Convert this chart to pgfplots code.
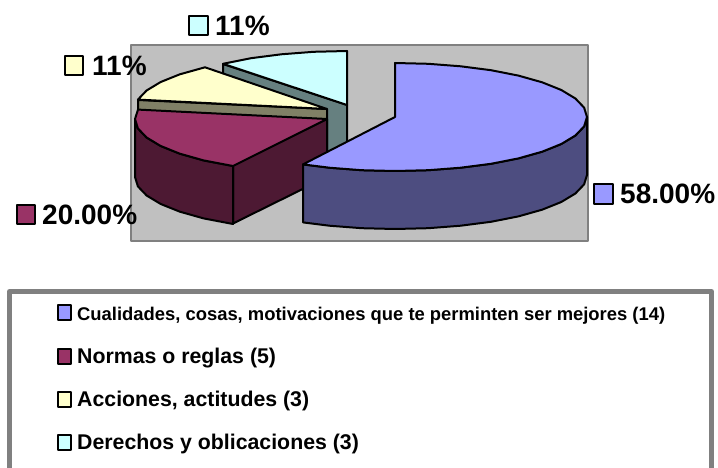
\documentclass[border=0pt]{standalone}
\usepackage{fontspec}
\setmainfont{Liberation Sans}
\usepackage{pgfplots}
\pgfplotsset{compat=1.18}
\definecolor{cblue}{HTML}{9999FF}
\definecolor{cblues}{HTML}{4D4D80}
\definecolor{cmar}{HTML}{993366}
\definecolor{cmars}{HTML}{4D1933}
\definecolor{cyel}{HTML}{FFFFCC}
\definecolor{cyels}{HTML}{808066}
\definecolor{ccya}{HTML}{CCFFFF}
\definecolor{ccyas}{HTML}{668080}
\definecolor{bggray}{HTML}{C0C0C0}
\definecolor{bord}{HTML}{808080}
\newcommand{\lab}{\fontsize{28}{30}\selectfont\bfseries}
\newcommand{\leg}{\fontsize{21.3}{23}\selectfont\bfseries}
\begin{document}
\begin{tikzpicture}
\begin{axis}[
  scale only axis, width=718pt, height=468pt,
  xmin=0, xmax=718, ymin=0, ymax=468, y dir=reverse,
  hide axis, clip=true,
  every axis plot/.append style={no markers, line join=round, line width=2pt, black, sharp plot},
]
% page
\addplot[draw=none, fill=white] coordinates {(0,0)(718,0)(718,468)(0,468)} -- cycle;
% plot area
\addplot[draw=bord, fill=bggray, line width=2.5pt] coordinates {(131,45)(588,45)(588,241)(131,241)} -- cycle;
% cyan slice
\addplot[draw=black, fill=ccyas] coordinates {(223,64)(347,105)(347,163)(223,122)} -- cycle;
\addplot[draw=black, fill=ccya] coordinates {(347,105)(347,51)(313.7,51.8)(281.3,54.3)(251,58.2)(223,63.8)} -- cycle;
% yellow slice
\addplot[draw=black, fill=cyels] coordinates {(138,100)(327,109)(327,167)(138,158)} -- cycle;
\addplot[draw=black, fill=cyel] coordinates {(327,109)(137.9,99.6)(146.6,90.5)(160.7,82)(179.9,74.3)(205,67.3)} -- cycle;
% maroon slice
\addplot[draw=black, fill=cmars] coordinates {(233,165.5)(327,119)(327,177)(233,223.5)} -- cycle;
\addplot[draw=black, fill=cmars] coordinates {(135,119)(135,177)(137.9,186.4)(146.6,195.5)(160.7,204)(179.9,211.7)(203.6,218.4)(233,224)(233,166)(203.6,160.4)(179.9,153.7)(160.7,146)(146.6,137.5)(137.9,128.4)} -- cycle;
\addplot[draw=black, fill=cmar] coordinates {(327,119)(138,109.6)(135,119)(137.9,128.4)(146.6,137.5)(160.7,146)(179.9,153.7)(203.6,160.4)(233,166)} -- cycle;
% blue slice
\addplot[draw=black, fill=cblues] coordinates {(587,117)(587,175)(584.1,184.4)(575.4,193.5)(561.3,202)(542.1,209.7)(518.4,216.4)(491,221.8)(460.7,225.7)(428.3,228.2)(395,229)(361.7,228.2)(329.3,225.7)(303,222.4)(303,164.4)(329.3,167.7)(361.7,170.2)(395,171)(428.3,170.2)(460.7,167.7)(491,163.8)(518.4,158.4)(542.1,151.7)(561.3,144)(575.4,135.5)(584.1,126.4)} -- cycle;
\addplot[draw=black, fill=cblue] coordinates {(395,117)(395,63)(428.3,63.8)(460.7,66.3)(491,70.2)(518.4,75.6)(542.1,82.3)(561.3,90)(575.4,98.5)(584.1,107.6)(587,117)(584.1,126.4)(575.4,135.5)(561.3,144)(542.1,151.7)(518.4,158.4)(491,163.8)(460.7,167.7)(428.3,170.2)(395,171)(361.7,170.2)(329.3,167.7)(303,164.4)} -- cycle;
% data label keys
\addplot[draw=black, fill=ccya] coordinates {(189,16)(208,16)(208,35)(189,35)} -- cycle;
\addplot[draw=black, fill=cyel] coordinates {(65,56)(83,56)(83,75)(65,75)} -- cycle;
\addplot[draw=black, fill=cmar] coordinates {(17,205)(35,205)(35,224)(17,224)} -- cycle;
\addplot[draw=black, fill=cblue] coordinates {(594,184)(613,184)(613,204)(594,204)} -- cycle;
\node[anchor=base west, inner sep=0pt] at (axis cs:215,36) {\lab 11\%};
\node[anchor=base west, inner sep=0pt] at (axis cs:92,76) {\lab 11\%};
\node[anchor=base west, inner sep=0pt] at (axis cs:42,225) {\lab 20.00\%};
\node[anchor=base west, inner sep=0pt] at (axis cs:620,204) {\lab 58.00\%};
% legend
\addplot[draw=bord, fill=white, line width=5pt] coordinates {(9.5,291.5)(711.5,291.5)(711.5,490)(9.5,490)} -- cycle;
\addplot[draw=black, fill=cblue] coordinates {(58,305)(71,305)(71,320)(58,320)} -- cycle;
\addplot[draw=black, fill=cmar] coordinates {(58,348.5)(71,348.5)(71,363.5)(58,363.5)} -- cycle;
\addplot[draw=black, fill=cyel] coordinates {(58,391.5)(71,391.5)(71,406.5)(58,406.5)} -- cycle;
\addplot[draw=black, fill=ccya] coordinates {(58,434.5)(71,434.5)(71,449.5)(58,449.5)} -- cycle;
\node[anchor=base west, inner sep=0pt] at (axis cs:77,320) {\fontsize{18.4}{20}\selectfont\bfseries Cualidades, cosas, motivaciones que te perminten ser mejores (14)};
\node[anchor=base west, inner sep=0pt] at (axis cs:77,363) {\leg Normas o reglas (5)};
\node[anchor=base west, inner sep=0pt] at (axis cs:77,406) {\leg Acciones, actitudes (3)};
\node[anchor=base west, inner sep=0pt] at (axis cs:77,449) {\leg Derechos y oblicaciones (3)};
\end{axis}
\end{tikzpicture}
\end{document}
